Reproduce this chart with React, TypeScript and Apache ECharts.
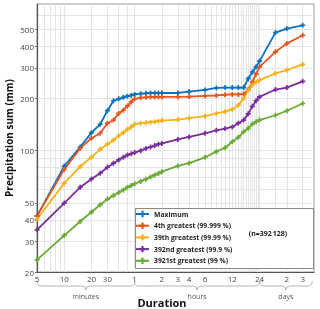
import React, { useEffect, useRef } from "react";
import * as echarts from "echarts";

// Durations in minutes
const durations = [5, 10, 15, 20, 25, 30, 35, 40, 45, 50, 55, 60, 70, 80, 90, 100, 110, 120, 180, 240, 360, 480, 600, 720, 840, 960, 1080, 1200, 1320, 1440, 2160, 2880, 4320];

const maximum = [42, 81.5, 105, 127, 142, 170, 194, 199, 203, 206, 208, 211, 213, 214, 215, 215, 215, 215, 215, 219, 224, 230, 231, 231, 231, 231, 260, 284, 304, 328, 479, 505, 528];
const greatest4th = [42, 78, 103, 118, 126, 144, 150, 164, 171, 181, 191, 199, 202, 203, 204, 204, 204, 204, 204, 205, 207, 208, 210, 211, 211, 212, 225, 249, 276, 304, 371, 414, 462];
const greatest39th = [40.3, 65, 81, 91.6, 102, 109, 115, 122, 127, 132.7, 137, 142, 144, 145, 146, 147, 148, 149, 151, 154, 158, 164, 168, 173, 183, 200, 223, 239, 248, 255, 279, 291, 314];
const greatest392nd = [35, 49.9, 61.5, 68.7, 74.1, 80.3, 84.7, 88.5, 91.6, 94.5, 96, 97.5, 100, 103, 105, 107, 109, 110, 116, 120, 126, 131, 134, 137, 144, 150, 163, 180, 194, 204, 225, 231, 251];
const greatest3921st = [23.5, 32.5, 39.1, 44.3, 48.8, 52.6, 55.1, 57.4, 59.4, 61.6, 63, 64.5, 66.5, 68.5, 70.5, 72.5, 74, 75.7, 81.7, 84.7, 91.6, 98.7, 104, 112.6, 119.4, 128.5, 134.5, 142.3, 146.8, 150, 160, 169.8, 187];

const seriesNames = [
  "Maximum",
  "4th greatest (99.999 %)",
  "39th greatest (99.99 %)",
  "392nd greatest (99.9 %)",
  "3921st greatest (99 %)",
];
const seriesValues = [maximum, greatest4th, greatest39th, greatest392nd, greatest3921st];
const seriesColors = ["#0a70c0", "#e8561f", "#f7b21b", "#7a2e9e", "#6aaa35"];

const xTickValues = [5, 10, 20, 30, 60, 120, 180, 240, 360, 720, 1440, 2880, 4320];
const xTickLabels = ["5", "10", "20", "30", "1", "2", "3", "4", "6", "12", "24", "2", "3"];
const yTickValues = [20, 30, 40, 50, 100, 200, 300, 400, 500];

const xGridValues = [
  6, 7, 8, 9, 10, 20, 30, 40, 50, 60,
  120, 180, 240, 300, 360, 420, 480, 540, 600, 660, 720, 780, 840, 900, 960, 1020, 1080, 1140, 1200, 1260, 1320, 1380, 1440,
  2160, 2880, 4320,
];
const yGridValues = [30, 40, 50, 60, 70, 80, 90, 100, 200, 300, 400, 500, 600];

const durationGroups = [
  { label: "minutes", from: 5, to: 60 },
  { label: "hours", from: 60, to: 1440 },
  { label: "days", from: 1440, to: 5500 },
];

const X_MIN = 5;
const X_MAX = 5760;
const Y_MIN = 20;
const Y_MAX = 700;

export default function App() {
  const ref = useRef<HTMLDivElement>(null);

  useEffect(() => {
    const chart = echarts.init(ref.current!, null, { renderer: "svg" });
    const font = "'Open Sans', 'DejaVu Sans', sans-serif";
    const xFmt = (v: number) => {
      const i = xTickValues.findIndex((t) => Math.abs(t - v) < 1e-3 * t);
      return i >= 0 ? xTickLabels[i] : "";
    };
    const plusSymbol = "path://M2,0H4V2H6V4H4V6H2V4H0V2H2Z";

    chart.setOption({
      animation: false,
      textStyle: { fontFamily: font },
      grid: {
        left: 37,
        right: 6,
        top: 4,
        bottom: 37,
        show: true,
        borderColor: "#9a9a9a",
        borderWidth: 1,
        containLabel: false,
        outerBoundsMode: "none",
      },
      xAxis: [
        {
          type: "log",
          logBase: 10,
          min: X_MIN,
          max: X_MAX,
          axisLine: { show: true, lineStyle: { color: "#555", width: 1.2 } },
          axisTick: { show: false },
          axisLabel: {
            customValues: xTickValues,
            formatter: (v: number) => xFmt(v),
            fontSize: 8,
            color: "#444",
            margin: 2,
            fontFamily: font,
          },
          splitLine: { show: false },
        },
        {
          type: "log",
          logBase: 10,
          min: X_MIN,
          max: X_MAX,
          position: "bottom",
          axisLine: { show: false },
          axisLabel: { show: false },
          axisTick: { show: false, customValues: xGridValues },
          splitLine: { show: true, lineStyle: { color: "#e4e4e4", width: 1 } },
        },
      ],
      yAxis: [
        {
          type: "log",
          logBase: 10,
          min: Y_MIN,
          max: Y_MAX,
          axisLine: { show: true, lineStyle: { color: "#555", width: 1.2 } },
          axisTick: { show: true, customValues: yTickValues, length: 2, lineStyle: { color: "#777" } },
          axisLabel: {
            customValues: yTickValues,
            formatter: (v: number) => String(Math.round(v)),
            fontSize: 8,
            color: "#444",
            margin: 3,
            fontFamily: font,
          },
          splitLine: { show: false },
        },
        {
          type: "log",
          logBase: 10,
          min: Y_MIN,
          max: Y_MAX,
          position: "left",
          axisLine: { show: false },
          axisLabel: { show: false },
          axisTick: { show: false, customValues: yGridValues },
          splitLine: { show: true, lineStyle: { color: "#e4e4e4", width: 1 } },
        },
      ],
      legend: {
        orient: "vertical",
        left: 135,
        top: 209,
        itemWidth: 13,
        itemHeight: 8,
        itemGap: 1.7,
        padding: 0,
        z: 6,
        data: seriesNames,
        textStyle: { fontSize: 6.8, fontWeight: "bold", color: "#222", lineHeight: 10, fontFamily: font },
      },
      series: seriesNames.map((name, s) => ({
        name,
        type: "line",
        xAxisIndex: 0,
        yAxisIndex: 0,
        data: durations.map((d, i) => [d, seriesValues[s][i]]),
        symbol: plusSymbol,
        symbolSize: 5,
        showSymbol: true,
        lineStyle: { width: 1.8, color: seriesColors[s] },
        itemStyle: { color: seriesColors[s] },
        z: 2,
      })),
    });

    // Braces and group labels placed via the axis scale
    const yTop = 281;
    const yMid = 286;
    const yTip = 290;
    const r = 4;
    const graphics: any[] = [];
    durationGroups.forEach((g, i) => {
      const xa = chart.convertToPixel({ xAxisIndex: 0 }, g.from) as number;
      const xb = chart.convertToPixel({ xAxisIndex: 0 }, g.to) as number;
      const xm = (xa + xb) / 2;
      const d =
        `M${xa},${yTop} Q${xa},${yMid} ${xa + r},${yMid} L${xm - r},${yMid} Q${xm},${yMid} ${xm},${yTip} ` +
        `M${xm},${yTip} Q${xm},${yMid} ${xm + r},${yMid} L${xb - r},${yMid} Q${xb},${yMid} ${xb},${yTop}`;
      const shapeName = "brace" + i;
      echarts.graphic.registerShape(shapeName, echarts.graphic.extendPath(d, {}) as any);
      graphics.push({
        type: shapeName,
        x: 0,
        y: 0,
        silent: true,
        style: { fill: "none", stroke: "#b5b5b5", lineWidth: 1 },
      });
      graphics.push({
        type: "text",
        x: xm,
        y: 296,
        silent: true,
        style: { text: g.label, fontSize: 7, fill: "#555", align: "center", verticalAlign: "middle", fontFamily: font },
      });
    });
    graphics.push({
      type: "text",
      x: 162,
      y: 302,
      silent: true,
      style: { text: "Duration", fontSize: 11, fontWeight: "bold", fill: "#111", align: "center", verticalAlign: "middle", fontFamily: font },
    });
    graphics.push({
      type: "text",
      x: 9,
      y: 138,
      rotation: Math.PI / 2,
      silent: true,
      style: { text: "Precipitation sum (mm)", fontSize: 10, fontWeight: "bold", fill: "#111", align: "center", verticalAlign: "middle", fontFamily: font },
    });
    graphics.push({
      type: "rect",
      z: 5,
      silent: true,
      shape: { x: 135.5, y: 208.5, width: 178, height: 60 },
      style: { fill: "#fff", stroke: "#8a8a8a", lineWidth: 1 },
    });
    graphics.push({
      type: "text",
      z: 6,
      x: 268,
      y: 233,
      silent: true,
      style: { text: "(n=392\u202f128)", fontSize: 7, fontWeight: "bold", fill: "#222", align: "center", verticalAlign: "middle", fontFamily: font },
    });
    chart.setOption({ graphic: graphics });

    return () => chart.dispose();
  }, []);

  return <div ref={ref} style={{ position: "fixed", left: 0, top: 0, width: 320, height: 309 }} />;
}
